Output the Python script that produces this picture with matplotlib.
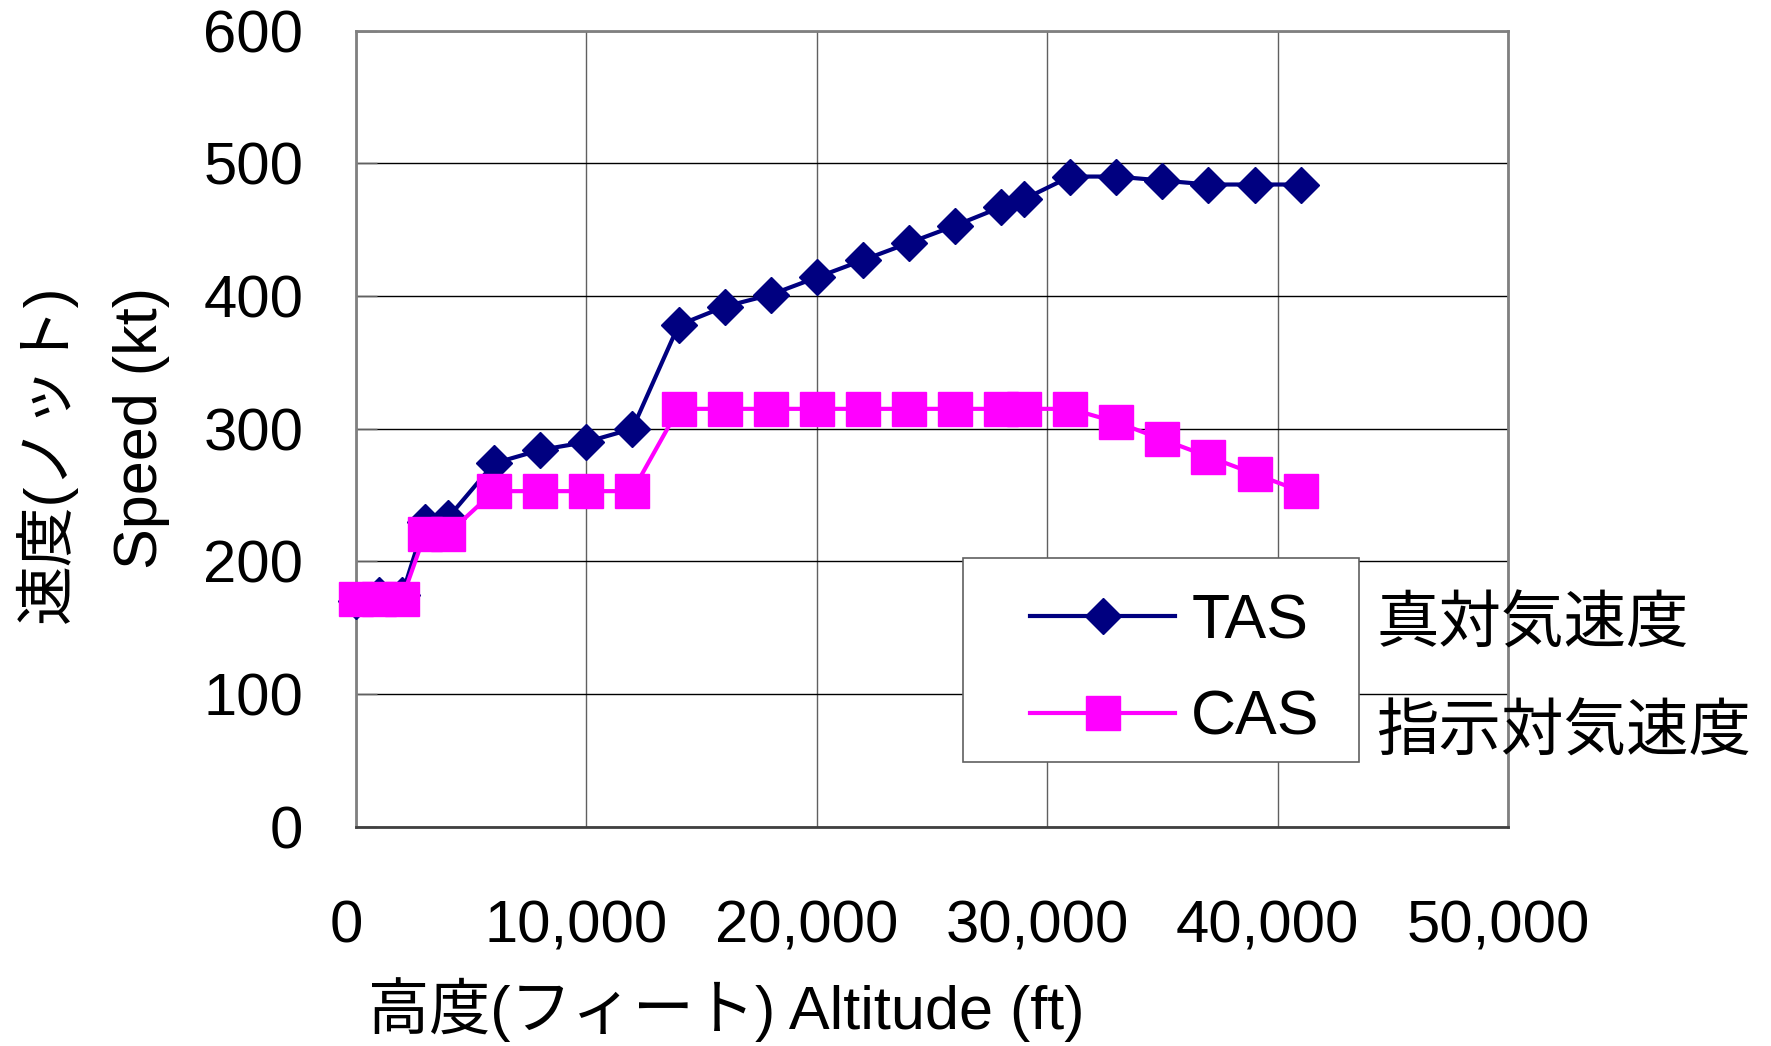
import matplotlib
matplotlib.use("Agg")
import matplotlib.pyplot as plt
from matplotlib.patches import Rectangle
from matplotlib.transforms import ScaledTranslation

plt.rcParams['font.family'] = ['Liberation Sans', 'Noto Sans CJK JP']

# data
altitude = [0, 1000, 2000, 3000, 4000, 6000, 8000, 10000, 12000, 14000, 16000, 18000,
            20000, 22000, 24000, 26000, 28000, 29000, 31000, 33000, 35000, 37000, 39000, 41000]
tas = [170, 175, 175, 230, 233, 274, 284, 290, 300, 378, 392, 401,
       414, 427, 440, 453, 467, 473, 490, 490, 487, 484, 484, 484]
cas = [172, 172, 172, 221, 221, 253, 253, 253, 253, 315, 315, 315,
       315, 315, 315, 315, 315, 315, 315, 305, 292, 279, 266, 253]

x_ticks = [0, 10000, 20000, 30000, 40000, 50000]
x_ticklabels = ["0", "10,000", "20,000", "30,000", "40,000", "50,000"]
y_ticks = [0, 100, 200, 300, 400, 500, 600]

fig = plt.figure(figsize=(17.71, 10.46), dpi=100)
ax = fig.add_axes([0.2010, 0.2094, 0.6505, 0.7614])

l_tas, = ax.plot(altitude, tas, color="#000080", lw=3, marker="D", markersize=18.5,
                 markeredgecolor="#000080", label="TAS", clip_on=False, zorder=5)
l_cas, = ax.plot(altitude, cas, color="#FF00FF", lw=3, marker="s", markersize=24,
                 markeredgecolor="#FF00FF", label="CAS", clip_on=False, zorder=6)

ax.set_xlim(0, 50000)
ax.set_ylim(0, 600)
ax.set_xticks(x_ticks)
ax.set_xticklabels(x_ticklabels)
ax.set_yticks(y_ticks)

ax.set_axisbelow(True)
ax.yaxis.grid(True, color="black", lw=1.0)
ax.xaxis.grid(True, color="#606060", lw=1.0)
for s in ax.spines.values():
    s.set_color("#808080")
    s.set_linewidth(2)
ax.spines["bottom"].set_color("#404040")

ax.tick_params(axis="y", direction="in", length=15, width=1, color="#606060",
               pad=38, labelsize=43)
ax.tick_params(axis="x", length=0, pad=52, labelsize=43)
for lab in ax.get_xticklabels():
    lab.set_transform(lab.get_transform() + ScaledTranslation(-0.1, 0, fig.dpi_scale_trans))

# legend box
box = Rectangle((963 / 1771, 1 - 762 / 1046), (1359 - 963) / 1771, (762 - 558) / 1046,
                transform=fig.transFigure, facecolor="white", edgecolor="#606060",
                lw=1.2, zorder=7)
ax.add_artist(box)
leg = ax.legend(handles=[l_tas, l_cas], loc="center left", frameon=False,
                bbox_to_anchor=(1030 / 1771, 1 - 670 / 1046), bbox_transform=fig.transFigure,
                fontsize=45, handlelength=2.32, handletextpad=0.26, borderpad=0,
                borderaxespad=0, labelspacing=0.6, numpoints=1)
leg.set_zorder(8)

fig.text(1376 / 1771, 1 - 626 / 1046, "真対気速度", fontsize=45, ha="left", va="center")
fig.text(1376 / 1771, 1 - 734 / 1046, "指示対気速度", fontsize=45, ha="left", va="center")

# axis titles
fig.text(46 / 1771, 1 - 454 / 1046, "速度(ノット)", fontsize=43, rotation=90,
         ha="center", va="center")
fig.text(141 / 1771, 1 - 428 / 1046, "Speed (kt)", fontsize=44, rotation=90,
         ha="center", va="center")
fig.text(726 / 1771, 1 - 1010 / 1046, "高度(フィート) Altitude (ft)", fontsize=44,
         ha="center", va="center")

fig.savefig("out.png", dpi=100)
